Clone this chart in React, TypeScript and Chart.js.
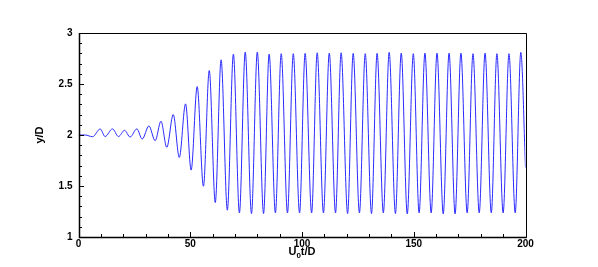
import React, { useEffect, useRef } from "react";
import { Chart, registerables } from "chart.js";

Chart.register(...registerables);

// Extrema (times, U0t/D) of the oscillation
const times: number[] = [
  0, 3, 6.3, 9.7, 11.9, 15.2, 17.9, 20.6, 23.1, 26.1, 28.5, 31.5, 34.3, 36.9,
  39.5, 42.4, 45.1, 47.9, 50.4, 53.1, 55.9, 58.5, 61.2, 63.8, 66.6, 69.3, 72.0,
  74.6, 77.4, 80.0, 82.8, 85.3, 88.1, 90.7, 93.5, 96.1, 98.9, 101.4, 104.3,
  106.8, 109.6, 112.2, 115.0, 117.5, 120.4, 122.9, 125.7, 128.3, 131.1, 133.6,
  136.4, 139.0, 141.8, 144.4, 147.1, 149.8, 152.4, 155.0, 157.8, 160.4, 163.2,
  165.8, 168.5, 171.1, 173.9, 176.5, 179.3, 181.9, 184.7, 187.2, 190.0, 192.6,
  195.4, 197.9, 200,
];
// y/D values at those times
const yValues: number[] = [
  2.0, 2.0, 1.983, 2.059, 1.985, 2.06, 1.985, 2.046, 1.98, 2.06, 1.96, 2.089,
  1.944, 2.135, 1.879, 2.2, 1.78, 2.305, 1.656, 2.475, 1.498, 2.632, 1.338,
  2.737, 1.263, 2.793, 1.236, 2.813, 1.23, 2.813, 1.23, 2.793, 1.236, 2.797,
  1.236, 2.797, 1.236, 2.8, 1.236, 2.806, 1.236, 2.803, 1.236, 2.806, 1.23, 2.8,
  1.236, 2.797, 1.23, 2.8, 1.236, 2.81, 1.23, 2.803, 1.226, 2.797, 1.236, 2.803,
  1.236, 2.803, 1.226, 2.803, 1.226, 2.803, 1.236, 2.797, 1.236, 2.803, 1.236,
  2.797, 1.236, 2.797, 1.236, 2.81, 1.68,
];

const xTickLabels: number[] = [0, 50, 100, 150, 200];
const yTickLabels: number[] = [1, 1.5, 2, 2.5, 3];
const xMinorStep = 10;
const yMinorStep = 0.1;

const FONT = "'Liberation Sans', Arial, sans-serif";

const framePlugin = {
  id: "framePlugin",
  afterDraw(chart: any) {
    const { ctx, chartArea } = chart;
    const xs = chart.scales.x;
    const ys = chart.scales.y;
    const { left, right, top, bottom } = chartArea;
    ctx.save();
    // frame
    ctx.strokeStyle = "#000";
    ctx.lineWidth = 1;
    ctx.beginPath();
    ctx.rect(Math.round(left) + 0.5, Math.round(top) + 0.5, Math.round(right - left), Math.round(bottom - top));
    ctx.stroke();
    ctx.lineWidth = 1.5;
    ctx.beginPath();
    ctx.moveTo(Math.round(left) + 0.5, Math.round(top));
    ctx.lineTo(Math.round(left) + 0.5, Math.round(bottom) + 0.5);
    ctx.lineTo(Math.round(right) + 0.5, Math.round(bottom) + 0.5);
    ctx.stroke();
    // ticks
    ctx.lineWidth = 1;
    ctx.beginPath();
    for (let v = 0; v <= 200 + 1e-6; v += xMinorStep) {
      const px = Math.round(xs.getPixelForValue(v)) + 0.5;
      const major = xTickLabels.some((t) => Math.abs(t - v) < 1e-6);
      ctx.moveTo(px, Math.round(bottom));
      ctx.lineTo(px, Math.round(bottom) - (major ? 5 : 3));
    }
    for (let i = 0; i <= 20; i++) {
      const v = 1 + i * yMinorStep;
      const py = Math.round(ys.getPixelForValue(v)) + 0.5;
      const major = yTickLabels.some((t) => Math.abs(t - v) < 1e-6);
      ctx.moveTo(Math.round(left), py);
      ctx.lineTo(Math.round(left) + (major ? 5 : 3), py);
    }
    ctx.stroke();
    // axis titles
    ctx.fillStyle = "#000";
    ctx.textBaseline = "alphabetic";
    const main1 = "U";
    const sub = "0";
    const main2 = "t/D";
    ctx.font = `bold 11px ${FONT}`;
    const w1 = ctx.measureText(main1).width;
    const w3 = ctx.measureText(main2).width;
    ctx.font = `bold 8px ${FONT}`;
    const w2 = ctx.measureText(sub).width;
    const total = w1 + w2 + w3;
    const cx = (left + right) / 2;
    const baseY = 255;
    const x0 = cx - total / 2;
    ctx.textAlign = "left";
    ctx.font = `bold 11px ${FONT}`;
    ctx.fillText(main1, x0, baseY);
    ctx.font = `bold 8px ${FONT}`;
    ctx.fillText(sub, x0 + w1, baseY + 2.5);
    ctx.font = `bold 11px ${FONT}`;
    ctx.fillText(main2, x0 + w1 + w2, baseY);
    // y title
    ctx.save();
    ctx.translate(43, (top + bottom) / 2);
    ctx.rotate(-Math.PI / 2);
    ctx.textAlign = "center";
    ctx.fillText("y/D", 0, 0);
    ctx.restore();
    ctx.restore();
  },
};

export default function App() {
  const canvasRef = useRef<HTMLCanvasElement | null>(null);

  useEffect(() => {
    const canvas = canvasRef.current;
    if (!canvas) return;
    const points = times.map((t, i) => ({ x: t, y: yValues[i] }));
    const tickFont = { family: FONT, size: 10, weight: "bold" as const };
    const chart = new Chart(canvas, {
      type: "line",
      data: {
        datasets: [
          {
            data: points,
            borderColor: "#2a2aff",
            borderWidth: 1,
            pointRadius: 0,
            cubicInterpolationMode: "monotone",
            fill: false,
          },
        ],
      },
      options: {
        animation: false,
        responsive: false,
        events: [],
        layout: { padding: { top: 33, right: 72.5, left: 0, bottom: 0 } },
        plugins: { legend: { display: false }, tooltip: { enabled: false } },
        scales: {
          x: {
            type: "linear",
            min: 0,
            max: 200,
            grid: { display: false, drawTicks: false },
            border: { display: false },
            afterBuildTicks: (scale: any) => {
              scale.ticks = xTickLabels.map((v) => ({ value: v }));
            },
            afterFit: (scale: any) => {
              scale.height = 30;
            },
            ticks: {
              color: "#000",
              font: tickFont,
              padding: 1,
              maxRotation: 0,
              autoSkip: false,
              callback: (v: any) => String(v),
            },
          },
          y: {
            type: "linear",
            min: 1,
            max: 3,
            grid: { display: false, drawTicks: false },
            border: { display: false },
            afterBuildTicks: (scale: any) => {
              scale.ticks = yTickLabels.map((v) => ({ value: v }));
            },
            afterFit: (scale: any) => {
              scale.width = 78.5;
            },
            ticks: {
              color: "#000",
              font: tickFont,
              padding: 6,
              autoSkip: false,
              callback: (v: any) => String(v),
            },
          },
        },
      },
      plugins: [framePlugin],
    });
    return () => chart.destroy();
  }, []);

  return (
    <div style={{ position: "fixed", left: 0, top: 0, width: 598, height: 267, background: "#fff" }}>
      <canvas ref={canvasRef} width={598} height={267} style={{ display: "block" }} />
    </div>
  );
}
